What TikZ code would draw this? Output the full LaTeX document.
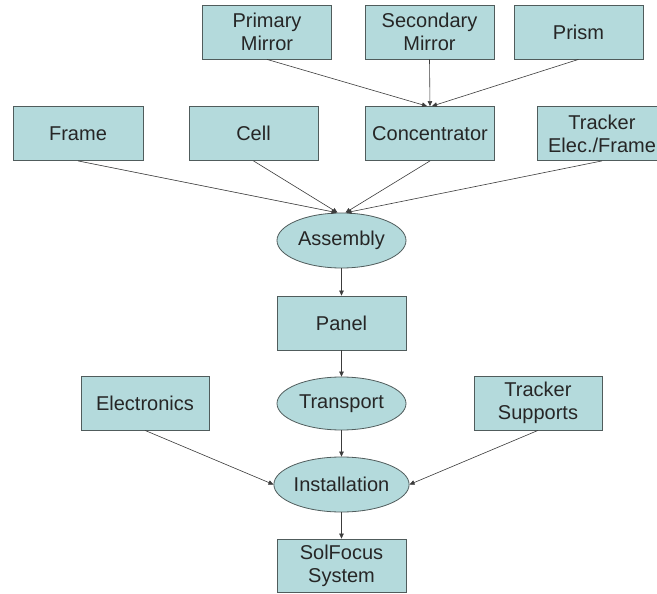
\documentclass[tikz,border=0pt]{standalone}
\usepackage{fontspec}
\setmainfont{Liberation Sans}
\usetikzlibrary{shapes.geometric,arrows.meta}
\definecolor{boxfill}{RGB}{180,218,220}
\definecolor{boxline}{RGB}{80,92,92}
\definecolor{arrowcol}{RGB}{60,60,60}
\begin{document}
\begin{tikzpicture}[x=1pt,y=-1pt,
  box/.style={draw=boxline,fill=boxfill,line width=0.8pt,rectangle,inner sep=0pt,
    minimum width=129pt,minimum height=54pt,align=center,
    font=\fontsize{20}{23}\selectfont,text=black!85},
  oval/.style={draw=boxline,fill=boxfill,line width=0.8pt,ellipse,inner sep=0pt,
    minimum width=129pt,minimum height=55pt,align=center,
    font=\fontsize{20}{23}\selectfont,text=black!85},
  arr/.style={draw=arrowcol,line width=0.6pt,-{Triangle[length=5pt,width=4.5pt]}}]
\useasboundingbox (0,0) rectangle (657,594);
\fill[white] (0,0) rectangle (657,594);
\node[box] (pm) at (267,32) {Primary\\Mirror};
\node[box] (sm) at (429.5,32) {Secondary\\Mirror};
\node[box] (pr) at (578.5,32) {Prism};
\node[box,minimum width=130pt] (fr) at (78,133.5) {Frame};
\node[box] (ce) at (253.5,133.5) {Cell};
\node[box] (co) at (430,133.5) {Concentrator};
\node[box,minimum width=130pt] (te) at (602,133.5) {Tracker\\Elec./Frame};
\node[oval] (as) at (341.5,240.5) {Assembly};
\node[box] (pa) at (341.5,323) {Panel};
\node[oval,minimum height=53pt] (tr) at (341.5,403.5) {Transport};
\node[oval] (in) at (341.5,484.5) {Installation};
\node[box,minimum height=53pt] (sf) at (341.5,565.5) {SolFocus\\System};
\node[box,minimum width=128pt] (el) at (145,403) {Electronics};
\node[box,minimum width=128pt] (ts) at (538,403) {Tracker\\Supports};
\draw[arr] (pm.south) -- ([xshift=-3pt]co.north);
\draw[arr] (sm.south) -- (co.north);
\draw[arr] (pr.south) -- ([xshift=2pt]co.north);
\draw[arr] (fr.south) -- ([xshift=-5pt]as.north);
\draw[arr] (ce.south) -- ([xshift=-4pt]as.north);
\draw[arr] (co.south) -- ([xshift=4pt]as.north);
\draw[arr] (te.south) -- ([xshift=5pt]as.north);
\draw[arr] (as.south) -- (pa.north);
\draw[arr] (pa.south) -- (tr.north);
\draw[arr] (tr.south) -- (in.north);
\draw[arr] (in.south) -- (sf.north);
\draw[arr] (el.south) -- (in.west);
\draw[arr] (ts.south) -- (in.east);
\end{tikzpicture}
\end{document}
